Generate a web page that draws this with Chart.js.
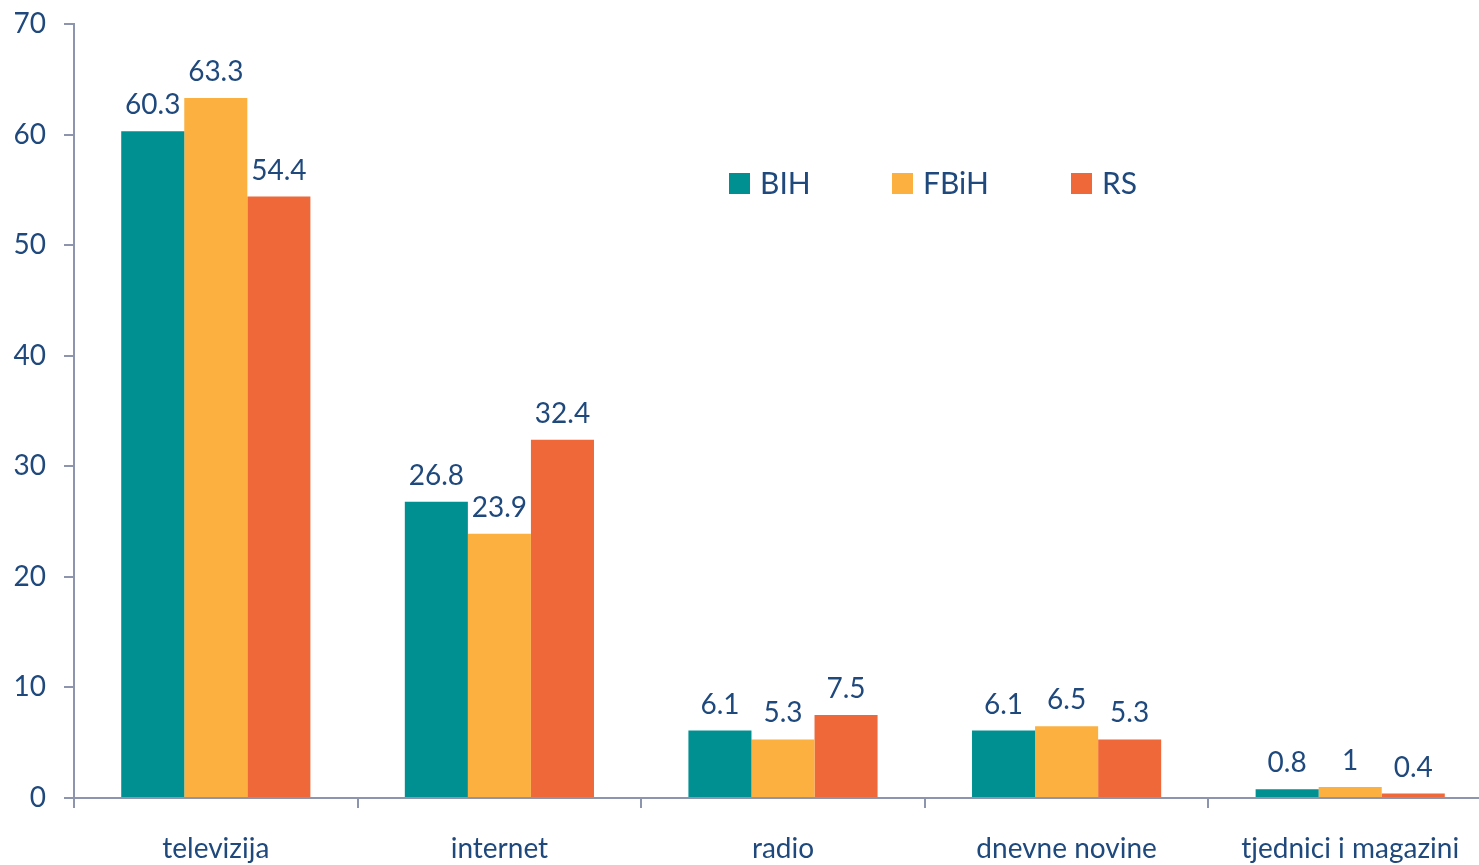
<!DOCTYPE html>
<html>
<head>
<meta charset="utf-8">
<script src="https://cdn.jsdelivr.net/npm/chart.js@4/dist/chart.umd.min.js"></script>
<style>
  html, body { margin: 0; padding: 0; background: #fff; overflow: hidden; }
  #wrap { width: 1492px; height: 865px; }
</style>
</head>
<body>
<div id="wrap"><canvas id="mediaChart" width="1492" height="865"></canvas></div>
<script>
// ── Data ─────────────────────────────────────────────
const categories = ['televizija', 'internet', 'radio', 'dnevne novine', 'tjednici i magazini'];
const bihValues  = [60.3, 26.8, 6.1, 6.1, 0.8];
const fbihValues = [63.3, 23.9, 5.3, 6.5, 1];
const rsValues   = [54.4, 32.4, 7.5, 5.3, 0.4];
const yTicks     = [0, 10, 20, 30, 40, 50, 60, 70];

const TEXT_COLOR = '#1f497d';
const AXIS_COLOR = '#8c94ae';
const FONT       = 'Lato, "Open Sans", sans-serif';

// value labels above each bar
const barLabels = {
    id: 'barLabels',
    afterDatasetsDraw(chart) {
        const ctx = chart.ctx;
        ctx.save();
        ctx.fillStyle    = TEXT_COLOR;
        ctx.font         = '28px ' + FONT;
        ctx.textAlign    = 'center';
        ctx.textBaseline = 'bottom';
        chart.data.datasets.forEach((ds, i) => {
            chart.getDatasetMeta(i).data.forEach((bar, j) => {
                ctx.fillText(String(ds.data[j]), bar.x, bar.y - 12);
            });
        });
        ctx.restore();
    }
};

// legend drawn inside the plot
const innerLegend = {
    id: 'innerLegend',
    afterDraw(chart) {
        const ctx = chart.ctx;
        const xs  = [729, 892, 1071];
        ctx.save();
        ctx.font         = '30px ' + FONT;
        ctx.textBaseline = 'middle';
        ctx.textAlign    = 'left';
        chart.data.datasets.forEach((ds, i) => {
            ctx.fillStyle = ds.backgroundColor;
            ctx.fillRect(xs[i], 173, 21, 21);
            ctx.fillStyle = TEXT_COLOR;
            ctx.fillText(ds.label, xs[i] + 31, 184);
        });
        ctx.restore();
    }
};

new Chart(document.getElementById('mediaChart').getContext('2d'), {
    type: 'bar',
    data: {
        labels: categories,
        datasets: [
            { label: 'BIH',  data: bihValues,  backgroundColor: '#009091' },
            { label: 'FBiH', data: fbihValues, backgroundColor: '#fbb040' },
            { label: 'RS',   data: rsValues,   backgroundColor: '#ee6839' }
        ]
    },
    options: {
        responsive: false,
        animation: false,
        categoryPercentage: 0.667,
        barPercentage: 1,
        layout: { padding: { top: 24, right: 0, left: 0, bottom: 0 } },
        plugins: {
            legend:  { display: false },
            tooltip: { enabled: false }
        },
        scales: {
            x: {
                afterFit: (s) => { s.height = 67; s.paddingLeft = 0; s.paddingRight = 0; },
                border: { color: AXIS_COLOR, width: 2 },
                grid: {
                    offset: true,
                    drawOnChartArea: false,
                    drawTicks: true,
                    tickLength: 10,
                    color: AXIS_COLOR,
                    lineWidth: 2
                },
                ticks: {
                    color: TEXT_COLOR,
                    font: { size: 28, family: FONT },
                    padding: 24,
                    maxRotation: 0
                }
            },
            y: {
                min: 0,
                max: 70,
                afterFit: (s) => { s.width = 74; s.paddingTop = 0; s.paddingBottom = 0; },
                afterBuildTicks: (s) => { s.ticks = yTicks.map(v => ({ value: v })); },
                border: { color: AXIS_COLOR, width: 2 },
                grid: {
                    drawOnChartArea: false,
                    drawTicks: true,
                    tickLength: 10,
                    color: AXIS_COLOR,
                    lineWidth: 2
                },
                ticks: {
                    color: TEXT_COLOR,
                    font: { size: 28, family: FONT },
                    padding: 18
                }
            }
        }
    },
    plugins: [barLabels, innerLegend]
});
</script>
</body>
</html>
